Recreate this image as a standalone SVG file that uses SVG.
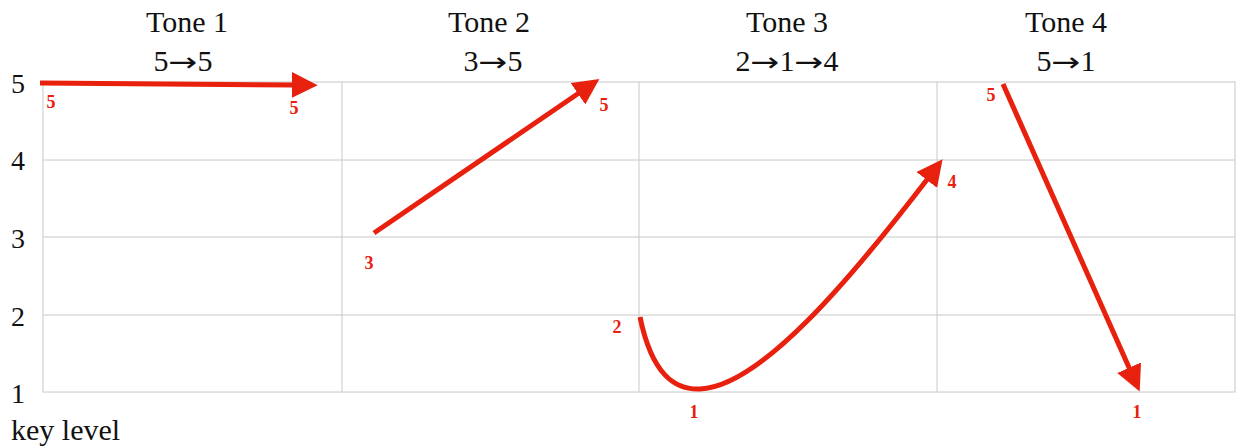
<svg xmlns="http://www.w3.org/2000/svg" width="1239" height="446" viewBox="0 0 1239 446">
<style>
.grid{stroke:#c8c8c8;stroke-width:1;fill:none}
.t{font-family:"Liberation Serif",serif;font-size:30px;fill:#111}
.ax{font-size:28px}
.c{text-anchor:middle}
.ar{font-family:"DejaVu Sans",sans-serif;font-size:26px}
.r{font-family:"Liberation Serif",serif;font-size:18px;font-weight:bold;fill:#e8200e;text-anchor:middle}
.a{stroke:#e8200e;stroke-width:5;fill:none;marker-end:url(#ah)}
</style>
<defs>
<marker id="ah" markerUnits="userSpaceOnUse" markerWidth="26" markerHeight="26" viewBox="0 0 24 24" refX="4" refY="12" orient="auto">
<path d="M0,0 L24,12 L0,24 z" fill="#e8200e"/>
</marker>
</defs>
<rect width="1239" height="446" fill="#fff"/>
<g id="grid">
<rect class="grid" x="43" y="82" width="1192" height="310"/>
<line class="grid" x1="43" y1="160" x2="1235" y2="160"/>
<line class="grid" x1="43" y1="237" x2="1235" y2="237"/>
<line class="grid" x1="43" y1="315" x2="1235" y2="315"/>
<line class="grid" x1="342" y1="82" x2="342" y2="392"/>
<line class="grid" x1="639" y1="82" x2="639" y2="392"/>
<line class="grid" x1="937" y1="82" x2="937" y2="392"/>
</g>
<g id="axis">
<text class="t ax" x="11" y="93">5</text>
<text class="t ax" x="11" y="170">4</text>
<text class="t ax" x="11" y="248">3</text>
<text class="t ax" x="11" y="326">2</text>
<text class="t ax" x="11" y="403">1</text>
<text class="t" x="11" y="440">key level</text>
</g>
<g id="titles">
<text class="t c" x="187" y="32">Tone 1</text>
<text class="t c" x="183" y="71">5<tspan class="ar" textLength="29" lengthAdjust="spacingAndGlyphs">→</tspan>5</text>
<text class="t c" x="489" y="32">Tone 2</text>
<text class="t c" x="493" y="71">3<tspan class="ar" textLength="29" lengthAdjust="spacingAndGlyphs">→</tspan>5</text>
<text class="t c" x="787" y="32">Tone 3</text>
<text class="t c" x="787" y="71">2<tspan class="ar" textLength="29" lengthAdjust="spacingAndGlyphs">→</tspan>1<tspan class="ar" textLength="29" lengthAdjust="spacingAndGlyphs">→</tspan>4</text>
<text class="t c" x="1066" y="32">Tone 4</text>
<text class="t c" x="1066" y="71">5<tspan class="ar" textLength="29" lengthAdjust="spacingAndGlyphs">→</tspan>1</text>
</g>
<g id="connectors">
<path id="tone1" class="a" d="M40,83 L296,85"/>
<path id="tone2" class="a" d="M374,233 L581.5,91.3"/>
<path id="tone3" class="a" d="M640,317 C652,375 675,390 700,389 C760,387 850,280 929.4,176.5"/>
<path id="tone4" class="a" d="M1003,84 L1130.9,371.7"/>
</g>
<g id="labels">
<text class="r" x="51" y="108">5</text>
<text class="r" x="294" y="114">5</text>
<text class="r" x="604" y="111">5</text>
<text class="r" x="369" y="269">3</text>
<text class="r" x="617" y="333">2</text>
<text class="r" x="952" y="188">4</text>
<text class="r" x="694" y="418">1</text>
<text class="r" x="991" y="101">5</text>
<text class="r" x="1137" y="418">1</text>
</g>
</svg>
